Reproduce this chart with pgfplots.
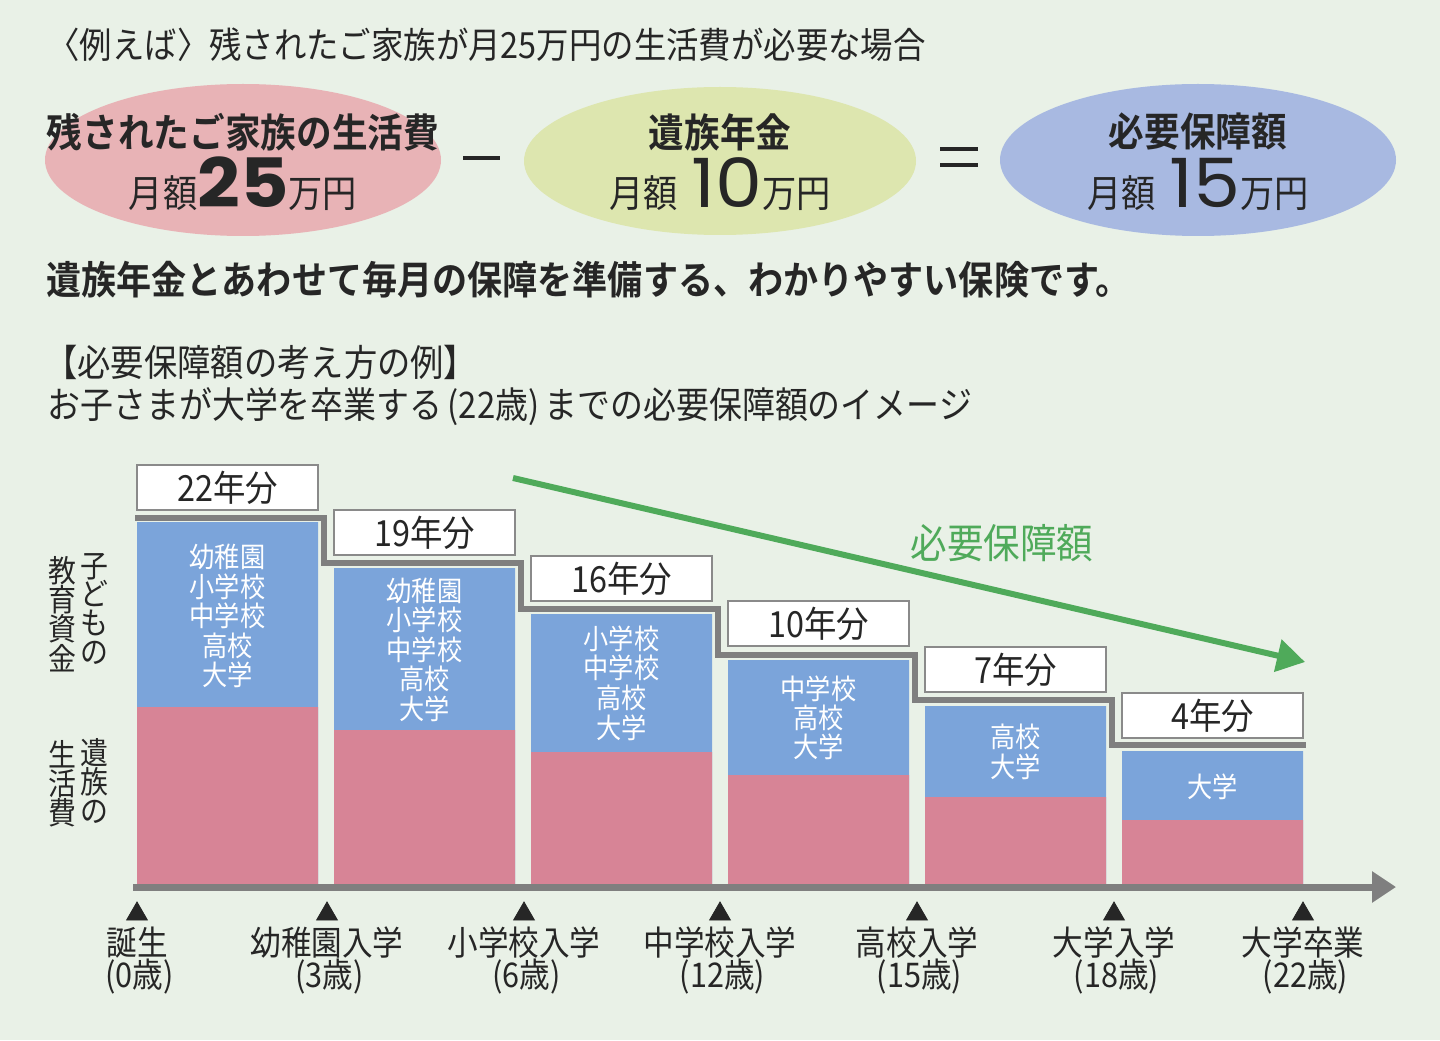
\documentclass[border=0pt]{standalone}
\usepackage{fontspec}
\usepackage{pgfplots}
\pgfplotsset{compat=1.18}
\usetikzlibrary{arrows.meta}
\setmainfont{Noto Sans CJK JP}
\newfontfamily\jp[FakeStretch=0.9]{Noto Sans CJK JP}
\newfontfamily\jpb[FakeStretch=0.9]{Noto Sans CJK JP Bold}
\newfontfamily\pop[FakeStretch=1.1]{Poppins}
\definecolor{bg}{HTML}{E9F1E7}
\definecolor{pinkbar}{HTML}{D78496}
\definecolor{bluebar}{HTML}{7BA4DA}
\definecolor{ellpink}{HTML}{E8B3B6}
\definecolor{ellgreen}{HTML}{DDE6AF}
\definecolor{ellblue}{HTML}{A8B9E1}
\definecolor{grayline}{HTML}{7F7F7F}
\definecolor{boxgray}{HTML}{8A8A8A}
\definecolor{arrowgreen}{HTML}{4FAA5A}
\definecolor{txt}{HTML}{262626}
\tikzset{pix/.style={x=0.5pt,y=-0.5pt,yshift=442.5pt}}
\newcommand\lp{\hspace{2.5pt}(}
\newcommand\rp{)\hspace{2.5pt}}
\begin{document}
\begin{tikzpicture}
\begin{scope}[pix]
\fill[bg] (0,0) rectangle (1440,1040);
\end{scope}
\begin{axis}[anchor=origin, at={(0,0)}, x=0.5pt, y=0.5pt,
  xmin=0, xmax=1440, ymin=-155, ymax=885, hide axis, clip=false]
% totals (living + education), then living costs on top
\addplot[ybar, bar width=181, bar shift=0pt, fill=bluebar, draw=none]
  coordinates {(227.5,363) (424.5,317) (621.5,271) (818.5,225) (1015.5,179) (1212.5,134)};
\addplot[ybar, bar width=181, bar shift=0pt, fill=pinkbar, draw=none]
  coordinates {(227.5,178) (424.5,155) (621.5,133) (818.5,110) (1015.5,88) (1212.5,65)};
\addplot[const plot, grayline, line width=3pt]
  coordinates {(135,367) (324,322) (521,276) (718,230) (915,185) (1112,140) (1306,140)};
\addplot[grayline, line width=3.5pt, -{Triangle[length=12pt,width=15pt]}]
  coordinates {(133,-2) (1396,-2)};
\addplot[only marks, mark=triangle*, mark size=6pt, txt]
  coordinates {(137,-29) (327,-29) (524,-29) (720,-29) (917,-29) (1114,-29) (1303,-29)};
\addplot[arrowgreen, line width=3pt, -{Triangle[length=14pt,width=16pt]}]
  coordinates {(513,407) (1305,223)};
\end{axis}
\begin{scope}[pix]
% ellipses
\fill[ellpink] (243,160) ellipse [x radius=99pt, y radius=38pt];
\fill[ellgreen] (720,161) ellipse [x radius=98pt, y radius=37pt];
\fill[ellblue] (1198,160) ellipse [x radius=99pt, y radius=38pt];
\draw[txt, line width=2pt] (463,158) -- (500,158);
\draw[txt, line width=2pt] (940,149) -- (978,149);
\draw[txt, line width=2pt] (940,165) -- (978,165);
\tikzset{every node/.style={text=txt, inner sep=0pt}}
\node[anchor=west, font=\jp\fontsize{18pt}{20pt}\selectfont] at (47,45) {〈例えば〉残されたご家族が月25万円の生活費が必要な場合};
% ellipse texts
\node[font=\jpb\fontsize{19.8pt}{22pt}\selectfont] at (243,132) {残されたご家族の生活費};
\node[anchor=base] at (243,208) {\jp\fontsize{19pt}{20pt}\selectfont 月額\pop\bfseries\fontsize{34pt}{36pt}\selectfont 25\jp\mdseries\fontsize{19pt}{20pt}\selectfont 万円};
\node[font=\jpb\fontsize{19.8pt}{22pt}\selectfont] at (720,132) {遺族年金};
\node[anchor=base] at (720,208) {\jp\fontsize{19pt}{20pt}\selectfont 月額\hspace{7pt}\pop\fontsize{34pt}{36pt}\selectfont 10\jp\fontsize{19pt}{20pt}\selectfont 万円};
\node[font=\jpb\fontsize{19.8pt}{22pt}\selectfont] at (1198,132) {必要保障額};
\node[anchor=base] at (1198,208) {\jp\fontsize{19pt}{20pt}\selectfont 月額\hspace{7pt}\pop\fontsize{34pt}{36pt}\selectfont 15\jp\fontsize{19pt}{20pt}\selectfont 万円};
% sentence
\node[anchor=west, font=\jpb\fontsize{19.5pt}{22pt}\selectfont] at (46,280) {遺族年金とあわせて毎月の保障を準備する、わかりやすい保険です。};
\node[anchor=west, font=\jp\fontsize{18.5pt}{22pt}\selectfont] at (44,362) {【必要保障額の考え方の例】};
\node[anchor=west, font=\jp\fontsize{18.3pt}{22pt}\selectfont] at (47,407) {お子さまが大学を卒業する\lp 22歳\rp までの必要保障額のイメージ};
% label boxes
\tikzset{lb/.style={draw=boxgray, line width=1pt, fill=white, minimum width=90.5pt, minimum height=22.5pt, font=\jp\fontsize{18pt}{20pt}\selectfont}}
\node[lb] at (227.5,487.5) {22年分};
\node[lb] at (424.5,532.5) {19年分};
\node[lb] at (621.5,578.5) {16年分};
\node[lb] at (818.5,623.5) {10年分};
\node[lb] at (1015.5,669.5) {7年分};
\node[lb] at (1212.5,715.5) {4年分};
% bar texts
\tikzset{bt/.style={text=white, font=\jp\fontsize{14pt}{15pt}\selectfont, text height=11pt, text depth=1.5pt}}
\node[bt] at (227.5,558) {幼稚園};
\node[bt] at (227.5,588) {小学校};
\node[bt] at (227.5,617) {中学校};
\node[bt] at (227.5,647) {高校};
\node[bt] at (227.5,676) {大学};
\node[bt] at (424.5,592) {幼稚園};
\node[bt] at (424.5,621) {小学校};
\node[bt] at (424.5,651) {中学校};
\node[bt] at (424.5,680) {高校};
\node[bt] at (424.5,710) {大学};
\node[bt] at (621.5,640) {小学校};
\node[bt] at (621.5,669) {中学校};
\node[bt] at (621.5,699) {高校};
\node[bt] at (621.5,729) {大学};
\node[bt] at (818.5,690) {中学校};
\node[bt] at (818.5,719) {高校};
\node[bt] at (818.5,748) {大学};
\node[bt] at (1015.5,738) {高校};
\node[bt] at (1015.5,768) {大学};
\node[bt] at (1212.5,788) {大学};
% green label
\node[text=arrowgreen, font=\jp\fontsize{20.3pt}{22pt}\selectfont] at (1002,543) {必要保障額};
% vertical labels
\tikzset{vl/.style={font=\jp\fontsize{15.5pt}{18pt}\selectfont, text height=11.5pt, text depth=1.5pt}}
\node[vl] at (94,567) {子};
\node[vl] at (94,595) {ど};
\node[vl] at (94,624) {も};
\node[vl] at (94,653) {の};
\node[vl] at (62,572) {教};
\node[vl] at (62,601) {育};
\node[vl] at (62,630) {資};
\node[vl] at (62,660) {金};
\node[vl] at (94,754) {遺};
\node[vl] at (94,783) {族};
\node[vl] at (94,812) {の};
\node[vl] at (62,756) {生};
\node[vl] at (62,785) {活};
\node[vl] at (62,814) {費};
% bottom labels
\tikzset{bl/.style={font=\jp\fontsize{17pt}{18pt}\selectfont, text height=12.5pt, text depth=1.5pt}}
\node[bl] at (137,944) {誕生};
\node[bl] at (137,976) {\lp 0歳\rp};
\node[bl] at (327,944) {幼稚園入学};
\node[bl] at (327,976) {\lp 3歳\rp};
\node[bl] at (524,944) {小学校入学};
\node[bl] at (524,976) {\lp 6歳\rp};
\node[bl] at (720,944) {中学校入学};
\node[bl] at (720,976) {\lp 12歳\rp};
\node[bl] at (917,944) {高校入学};
\node[bl] at (917,976) {\lp 15歳\rp};
\node[bl] at (1114,944) {大学入学};
\node[bl] at (1114,976) {\lp 18歳\rp};
\node[bl] at (1303,944) {大学卒業};
\node[bl] at (1303,976) {\lp 22歳\rp};
\end{scope}
\end{tikzpicture}
\end{document}
